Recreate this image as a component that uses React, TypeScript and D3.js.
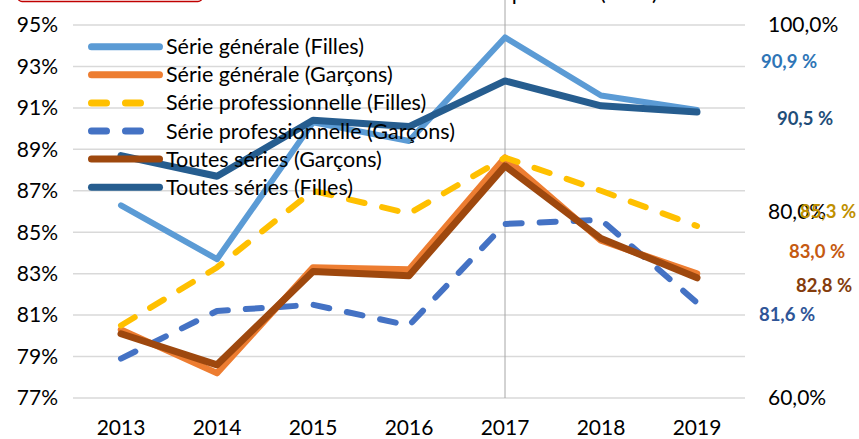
import React from "react";
import * as d3 from "d3";

const years = ["2013", "2014", "2015", "2016", "2017", "2018", "2019"];
const generaleFilles = [86.3, 83.7, 90.3, 89.4, 94.4, 91.6, 90.9];
const generaleGarcons = [80.3, 78.2, 83.3, 83.2, 88.6, 84.6, 83.0];
const proFilles = [80.5, 83.3, 87.0, 85.9, 88.6, 87.0, 85.3];
const proGarcons = [78.9, 81.2, 81.5, 80.5, 85.4, 85.6, 81.6];
const toutesGarcons = [80.1, 78.6, 83.1, 82.9, 88.2, 84.7, 82.8];
const toutesFilles = [88.7, 87.7, 90.4, 90.1, 92.3, 91.1, 90.8];
const seriesNames = [
  "Série générale (Filles)",
  "Série générale (Garçons)",
  "Série professionnelle (Filles)",
  "Série professionnelle (Garçons)",
  "Toutes séries (Garçons)",
  "Toutes séries (Filles)",
];
const endLabels = ["90,9 %", "83,0 %", "85,3 %", "81,6 %", "82,8 %", "90,5 %"];
const leftTicks = [77, 79, 81, 83, 85, 87, 89, 91, 93, 95];
const rightTicks = [60, 80, 100];
const titleText = "Taux de réussite au baccalauréat par série (en %)";

const W = 859;
const H = 439;
const FONT = "Lato, 'Open Sans', sans-serif";

const seriesValues = [generaleFilles, generaleGarcons, proFilles, proGarcons, toutesGarcons, toutesFilles];
const colors = ["#5B9BD5", "#ED7D31", "#FFC000", "#4472C4", "#9E480E", "#265D8F"];
const widths = [6, 6.5, 6, 6, 7, 7];
const dashed = [false, false, true, true, false, false];
const labelColors = ["#2E75B6", "#C55A11", "#BF9000", "#2F5597", "#843C0C", "#1F4E79"];
const labelOffsets: [number, number][] = [
  [92, -48],
  [120, -22],
  [131, -14],
  [90, 12],
  [127, 8],
  [108, 6],
];

export default function App() {
  const x = d3.scaleBand<string>().domain(years).range([73, 745]);
  const cx = (d: string) => (x(d) as number) + x.bandwidth() / 2;
  const y = d3.scaleLinear().domain([77, 95]).range([398, 25]);
  const yR = d3.scaleLinear().domain([60, 100]).range([398, 25]);
  const line = d3
    .line<number>()
    .x((_, i) => cx(years[i]))
    .y((v) => y(v));
  const fmtR = (v: number) => d3.format(".1f")(v).replace(".", ",") + "%";

  return (
    <svg
      width={W}
      height={H}
      style={{ position: "absolute", left: 0, top: 0, background: "#fff" }}
      fontFamily={FONT}
    >
      <rect x={0} y={0} width={W} height={H} fill="#fff" />
      <rect x={18} y={-40} width={184} height={41.5} rx={4} fill="#fff" stroke="#C00000" strokeWidth={1.5} />
      <text x={658} y={0} textAnchor="end" fontSize={22} fill="#000">
        {titleText}
      </text>
      {leftTicks.map((t) => (
        <line key={"g" + t} x1={73} x2={745} y1={y(t)} y2={y(t)} stroke="#D9D9D9" strokeWidth={1.5} />
      ))}
      <line x1={cx("2017")} x2={cx("2017")} y1={0} y2={398} stroke="#A6A6A6" strokeWidth={1} />
      {leftTicks.map((t) => (
        <text key={"l" + t} x={58} y={y(t)} dy="0.35em" textAnchor="end" fontSize={21} fill="#000">
          {t + "%"}
        </text>
      ))}
      {rightTicks.map((t) => (
        <text key={"r" + t} x={768} y={yR(t)} dy="0.35em" textAnchor="start" fontSize={21} fill="#000">
          {fmtR(t)}
        </text>
      ))}
      {years.map((yr) => (
        <text key={"x" + yr} x={cx(yr)} y={428} dy="0.35em" textAnchor="middle" fontSize={21} fill="#000">
          {yr}
        </text>
      ))}
      {seriesValues.map((vals, i) => (
        <path
          key={"s" + i}
          d={line(vals) as string}
          fill="none"
          stroke={colors[i]}
          strokeWidth={widths[i]}
          strokeLinejoin="round"
          strokeLinecap="round"
          strokeDasharray={dashed[i] ? "16 18" : undefined}
        />
      ))}
      {seriesValues.map((vals, i) => {
        const last = vals.length - 1;
        const px = cx(years[last]) + labelOffsets[i][0];
        const py = y(vals[last]) + labelOffsets[i][1];
        return (
          <text
            key={"e" + i}
            x={px}
            y={py}
            dy="0.35em"
            textAnchor="middle"
            fontSize={18.5}
            fontWeight="bold"
            fill={labelColors[i]}
          >
            {endLabels[i]}
          </text>
        );
      })}
      {seriesNames.map((name, i) => {
        const ly = 46.7 + i * 28.1;
        return (
          <g key={"lg" + i}>
            <line
              x1={91.5}
              x2={159.5}
              y1={ly}
              y2={ly}
              stroke={colors[i]}
              strokeWidth={7}
              strokeLinecap="round"
              strokeDasharray={dashed[i] ? "15 19" : undefined}
            />
            <text x={166} y={ly} dy="0.35em" fontSize={21.5} fill="#000">
              {name}
            </text>
          </g>
        );
      })}
    </svg>
  );
}
